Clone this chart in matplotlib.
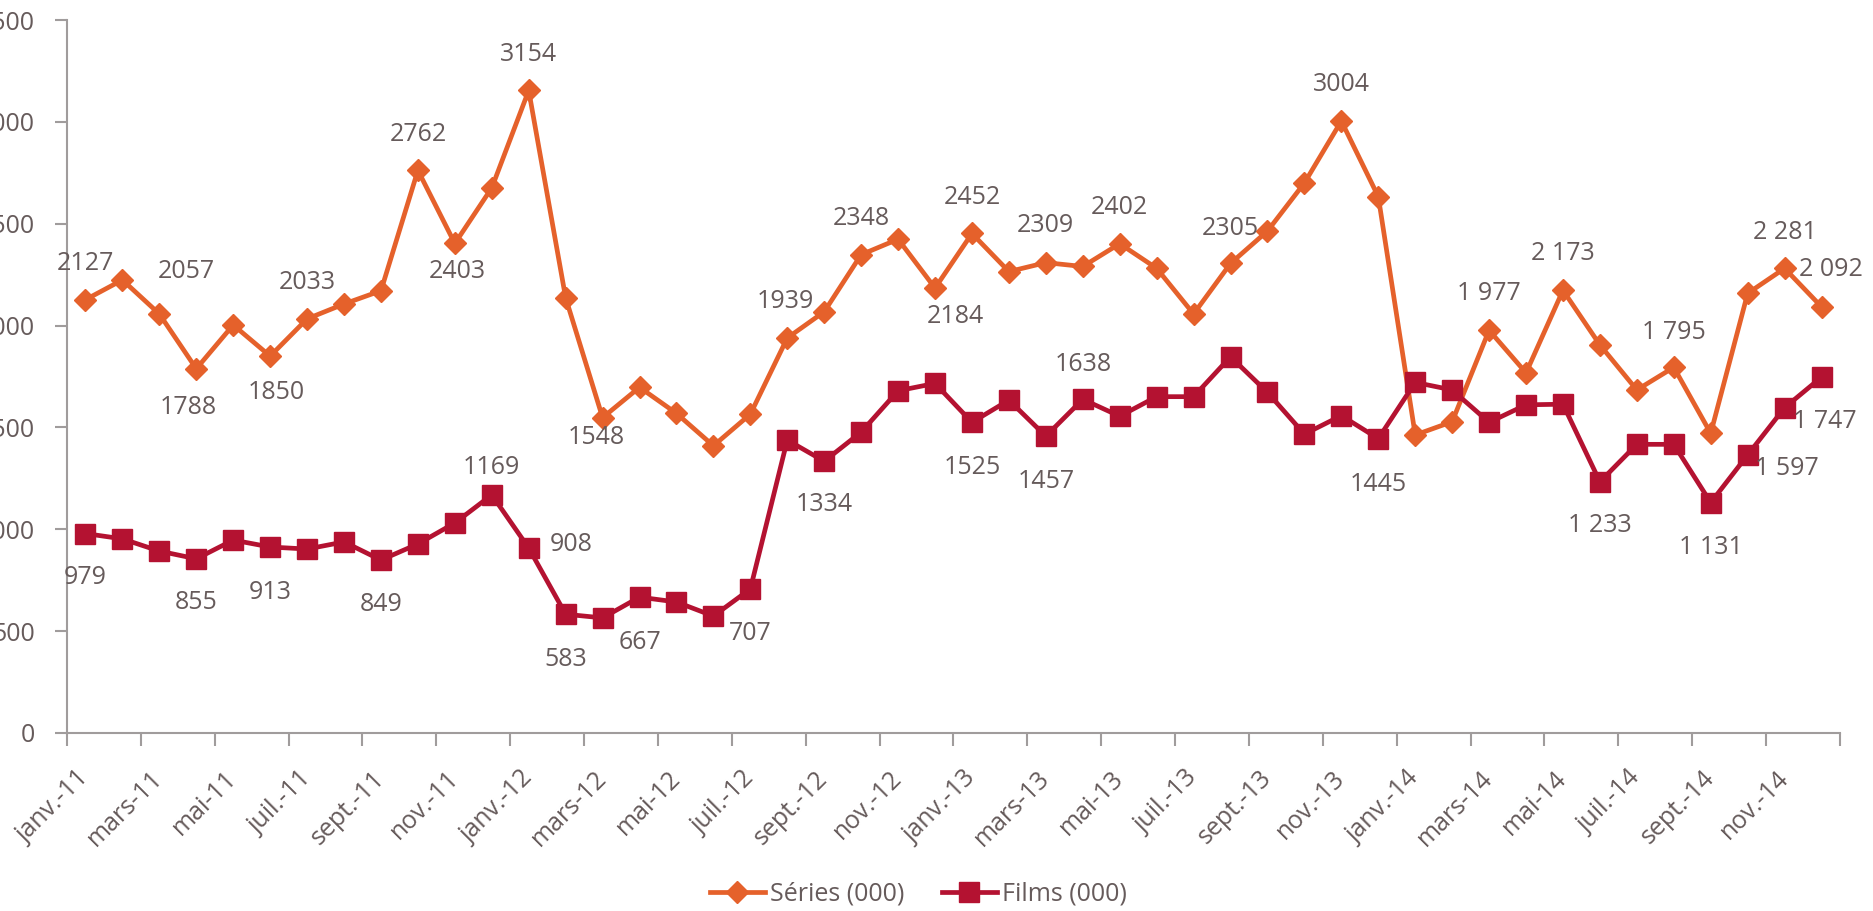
import matplotlib
matplotlib.use('Agg')
import matplotlib.pyplot as plt
import matplotlib.ticker as ticker

# ── Data ───────────────────────────────────────────────────────────────────────

months = ["janv.", "févr.", "mars", "avr.", "mai", "juin",
          "juil.", "août", "sept.", "oct.", "nov.", "déc."]
years = ["11", "12", "13", "14"]
categories = [f"{m}-{y}" for y in years for m in months]

series_vals = [2127, 2224, 2057, 1788, 2003, 1850, 2033, 2106, 2171, 2762, 2403, 2676,
               3154, 2136, 1548, 1697, 1569, 1410, 1565, 1939, 2068, 2348, 2424, 2184,
               2452, 2265, 2309, 2290, 2402, 2281, 2057, 2305, 2464, 2700, 3004, 2633,
               1463, 1528, 1977, 1768, 2173, 1905, 1684, 1795, 1471, 2158, 2281, 2092]

films_vals = [979, 953, 893, 855, 947, 913, 903, 938, 849, 928, 1031, 1169,
              908, 583, 565, 667, 643, 574, 707, 1438, 1334, 1477, 1680, 1716,
              1525, 1634, 1457, 1638, 1555, 1651, 1651, 1847, 1672, 1467, 1558, 1445,
              1721, 1684, 1525, 1611, 1614, 1233, 1417, 1417, 1131, 1365, 1597, 1747]

# labelled points: index -> (text, dx px, dy px)
series_labels = {0: ("2127", 0, 36), 2: ("2057", 27, 42), 3: ("1788", -8, -39),
                 5: ("1850", 6, -36), 6: ("2033", 0, 36), 9: ("2762", 0, 36),
                 10: ("2403", 2, -28), 12: ("3154", 0, 36), 14: ("1548", -6, -20),
                 19: ("1939", -2, 36), 21: ("2348", 0, 36), 23: ("2184", 20, -28),
                 24: ("2452", 0, 36), 26: ("2309", 0, 37), 28: ("2402", 0, 36),
                 31: ("2305", 0, 35), 34: ("3004", 0, 37), 38: ("1 977", 0, 37),
                 40: ("2 173", 0, 37), 43: ("1 795", 0, 35), 46: ("2 281", 0, 36),
                 47: ("2 092", 9, 37)}

films_labels = {0: ("979", 0, -44), 3: ("855", 0, -44), 5: ("913", 0, -45),
                8: ("849", 0, -44), 11: ("1169", 0, 27), 12: ("908", 42, 4),
                13: ("583", 0, -45), 15: ("667", 0, -45), 18: ("707", 0, -45),
                20: ("1334", 0, -43), 24: ("1525", 0, -45), 26: ("1457", 0, -45),
                27: ("1638", 0, 35), 35: ("1445", 0, -46), 41: ("1 233", 0, -44),
                44: ("1 131", 0, -45), 46: ("1 597", 2, -61), 47: ("1 747", 3, -44)}

ORANGE = "#E5612B"
RED = "#B41231"
TEXT = "#665B5B"
AXIS = "#A09C9C"
FS = 18

plt.rcParams['font.family'] = ['Open Sans', 'DejaVu Sans']

# ── Plot ───────────────────────────────────────────────────────────────────────

fig = plt.figure(figsize=(18.74, 9.11), dpi=100)
ax = fig.add_axes([67 / 1874, 178 / 911, (1840 - 67) / 1874, (733 - 20) / 911])

x = list(range(len(categories)))
ax.plot(x, series_vals, color=ORANGE, linewidth=3.4, marker="D", markersize=11,
        label="Séries (000)", zorder=3)
ax.plot(x, films_vals, color=RED, linewidth=3.4, marker="s", markersize=14,
        label="Films (000)", zorder=3)

px = 0.72  # points per pixel at dpi 100
for labels, vals in ((series_labels, series_vals), (films_labels, films_vals)):
    for i, (txt, dx, dy) in labels.items():
        ax.annotate(txt, (i, vals[i]), textcoords="offset points",
                    xytext=(dx * px, dy * px), ha="center", va="center",
                    fontsize=FS, color=TEXT, zorder=4)

ax.set_xlim(-0.5, len(categories) - 0.5)
ax.set_ylim(0, 3500)
ax.yaxis.set_major_locator(ticker.MultipleLocator(500))

ax.set_xticks(x[::2])
ax.set_xticklabels(categories[::2], rotation=45, ha="right", va="center",
                   rotation_mode="anchor")
ax.set_xticks([i - 0.5 for i in range(0, len(categories) + 1, 2)], minor=True)
ax.tick_params(axis="x", which="major", length=0, pad=30, labelsize=FS, labelcolor=TEXT)
ax.tick_params(axis="x", which="minor", length=9, width=1.5, color=AXIS)
ax.tick_params(axis="y", length=9, width=1.5, color=AXIS, labelsize=FS,
               labelcolor=TEXT, pad=14)

for side in ("top", "right"):
    ax.spines[side].set_visible(False)
for side in ("left", "bottom"):
    ax.spines[side].set_color(AXIS)
    ax.spines[side].set_linewidth(1.5)

leg = fig.legend(loc="lower center", bbox_to_anchor=(0.49, -0.02), ncol=2,
                 frameon=False, fontsize=FS, handlelength=2.2, columnspacing=1.5,
                 handletextpad=0.2)
for t in leg.get_texts():
    t.set_color(TEXT)

fig.savefig("out.png", dpi=100)
